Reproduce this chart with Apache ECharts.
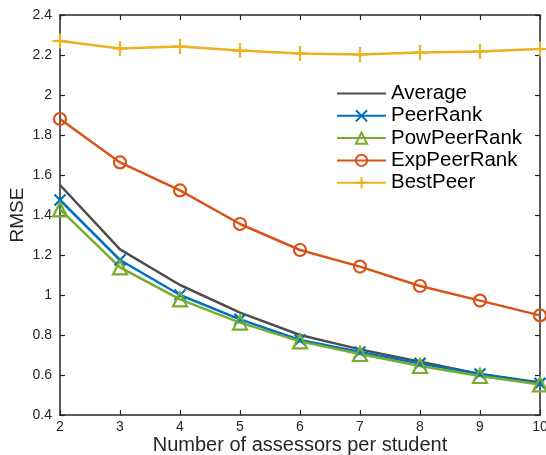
<!DOCTYPE html>
<html>
<head>
<meta charset="utf-8">
<script src="https://cdn.jsdelivr.net/npm/echarts@6/dist/echarts.min.js"></script>
<style>
  html, body { margin: 0; padding: 0; background: #fff; }
  #chart { width: 546px; height: 455px; }
</style>
</head>
<body>
<div id="chart"></div>
<script>
// Assessors per student (x) and RMSE of each grading method
const assessors = [2, 3, 4, 5, 6, 7, 8, 9, 10];
const average     = [1.55, 1.228, 1.05, 0.912, 0.80, 0.728, 0.667, 0.605, 0.562];
const peerRank    = [1.475, 1.175, 1.00, 0.878, 0.775, 0.715, 0.658, 0.605, 0.558];
const powPeerRank = [1.428, 1.138, 0.978, 0.862, 0.768, 0.705, 0.645, 0.595, 0.553];
const expPeerRank = [1.88, 1.663, 1.523, 1.355, 1.225, 1.142, 1.045, 0.972, 0.898];
const bestPeer    = [2.27, 2.233, 2.242, 2.222, 2.208, 2.202, 2.212, 2.218, 2.23];

const FONT = 'Liberation Sans';
const AXIS = '#262626';

const CROSS = 'path://M0,0L10,10M0,10L10,0';
const PLUS = 'path://M5,0L5,10M0,5L10,5';

function pairs(vals) { return assessors.map((x, i) => [x, vals[i]]); }

function makeSeries(name, vals, color, symbol, size) {
  const noMarker = symbol === 'none';
  return {
    name: name,
    type: 'line',
    data: pairs(vals),
    color: color,
    symbol: symbol,
    symbolSize: size,
    showSymbol: !noMarker,
    lineStyle: { color: color, width: 2.5 },
    itemStyle: noMarker
      ? { color: 'rgba(0,0,0,0)', borderColor: 'rgba(0,0,0,0)', borderWidth: 0 }
      : { color: 'rgba(0,0,0,0)', borderColor: color, borderWidth: 2.2 },
    emphasis: { disabled: true },
    animation: false
  };
}

const chart = echarts.init(document.getElementById('chart'), null, { renderer: 'canvas' });

const baseAxis = {
  axisLine: { show: true, lineStyle: { color: AXIS, width: 1.5 } },
  axisTick: { show: true, inside: true, length: 5, lineStyle: { color: AXIS, width: 1.2 } },
  splitLine: { show: false }
};

chart.setOption({
  backgroundColor: '#fff',
  animation: false,
  grid: { left: 60, right: 6, top: 15, bottom: 40, containLabel: false, outerBoundsMode: 'none' },
  xAxis: [
    Object.assign({}, baseAxis, {
      type: 'value', min: 2, max: 10, interval: 1, position: 'bottom',
      name: 'Number of assessors per student',
      nameLocation: 'middle', nameGap: 20, nameMoveOverlap: false,
      nameTextStyle: { fontFamily: FONT, fontSize: 20, color: AXIS },
      axisLabel: { fontFamily: FONT, fontSize: 14, color: AXIS, margin: 5 }
    }),
    Object.assign({}, baseAxis, {
      type: 'value', min: 2, max: 10, interval: 1, position: 'top',
      axisLabel: { show: false }
    })
  ],
  yAxis: [
    Object.assign({}, baseAxis, {
      type: 'value', min: 0.4, max: 2.4, interval: 0.2, position: 'left',
      name: 'RMSE', nameLocation: 'middle', nameGap: 33, nameRotate: 90,
      nameMoveOverlap: false,
      nameTextStyle: { fontFamily: FONT, fontSize: 19, color: AXIS },
      axisLabel: { fontFamily: FONT, fontSize: 14, color: AXIS, margin: 8 }
    }),
    Object.assign({}, baseAxis, {
      type: 'value', min: 0.4, max: 2.4, interval: 0.2, position: 'right',
      axisLabel: { show: false }
    })
  ],
  legend: {
    orient: 'vertical',
    left: 331, top: 78,
    itemWidth: 49, itemHeight: 14, itemGap: 1.3,
    textStyle: { fontFamily: FONT, fontSize: 20.5, color: '#000' },
    data: ['Average', 'PeerRank', 'PowPeerRank', 'ExpPeerRank', 'BestPeer']
  },
  series: [
    makeSeries('Average', average, '#4d4d4d', 'none', 0),
    makeSeries('PeerRank', peerRank, '#0072BD', CROSS, 11),
    makeSeries('PowPeerRank', powPeerRank, '#77AC30', 'triangle', 14),
    makeSeries('ExpPeerRank', expPeerRank, '#D95319', 'circle', 12),
    makeSeries('BestPeer', bestPeer, '#EDB120', PLUS, 15)
  ]
});
</script>
</body>
</html>
